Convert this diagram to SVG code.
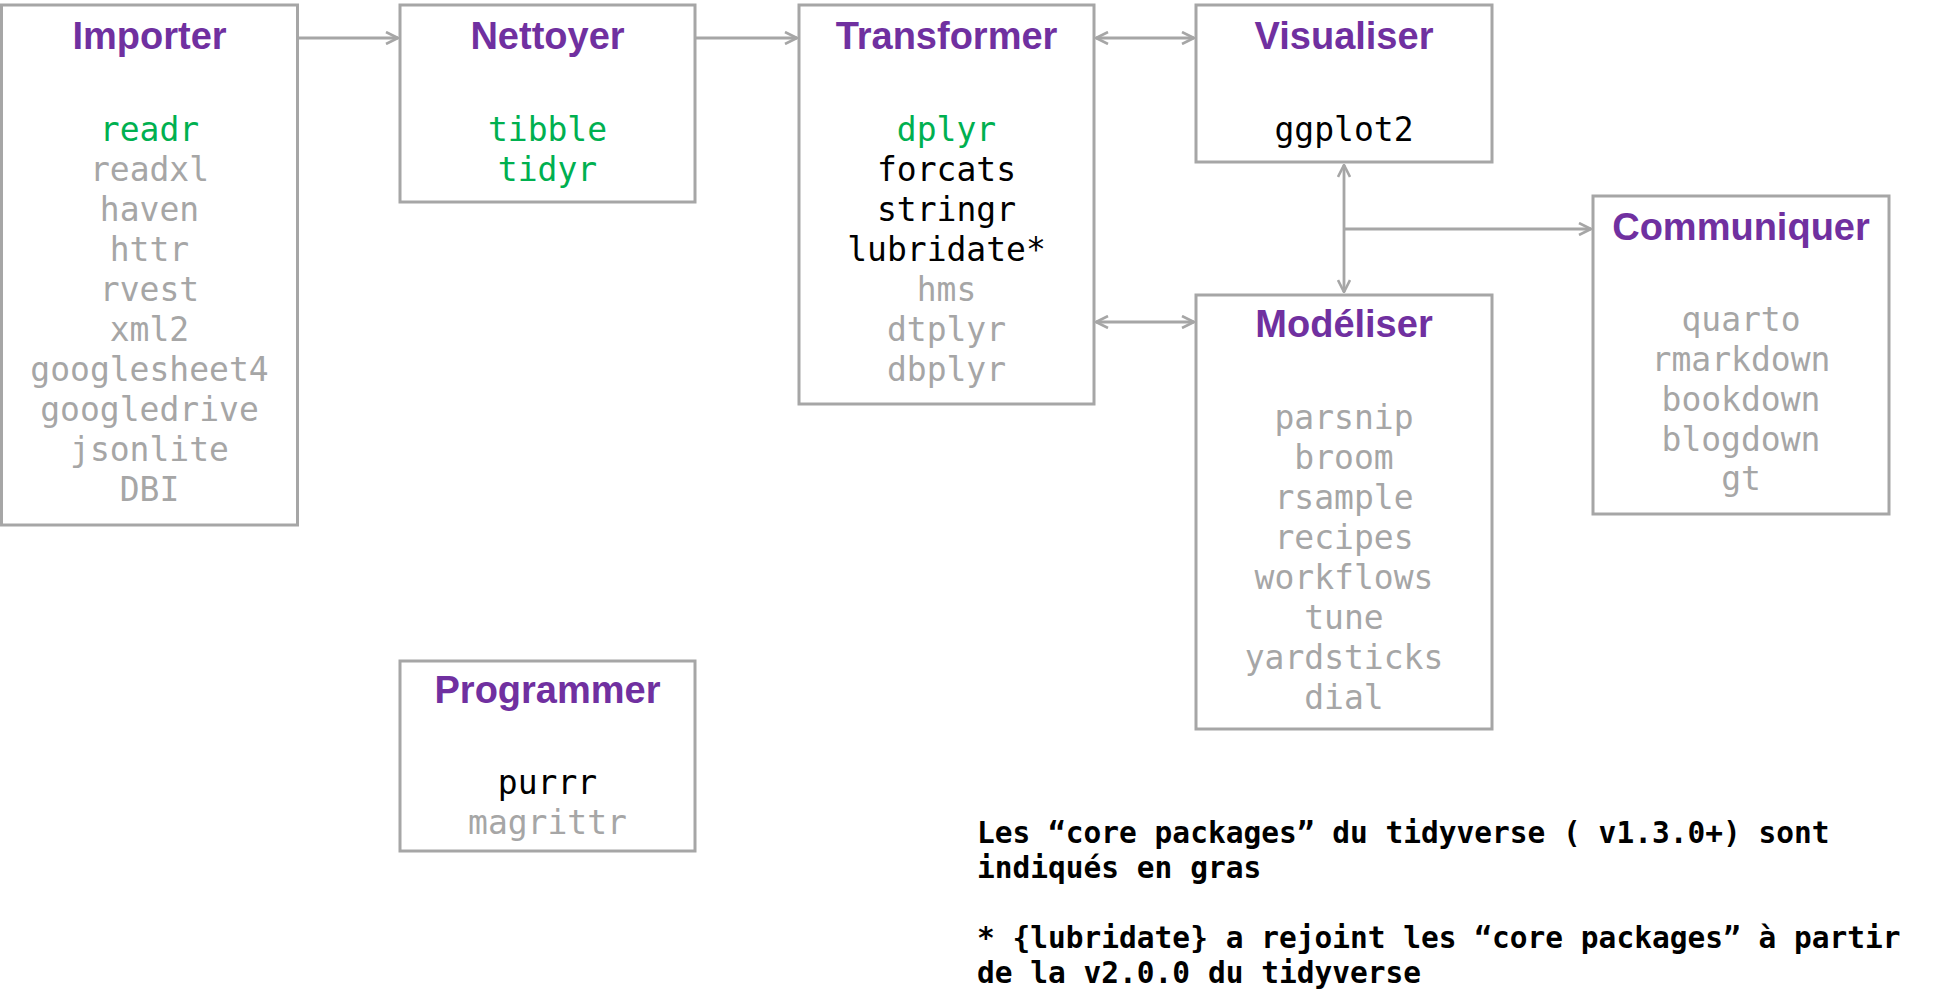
<svg xmlns="http://www.w3.org/2000/svg" width="1933" height="1007" viewBox="0 0 1933 1007">
<style>
.box{fill:#ffffff;stroke:#a6a6a6;stroke-width:3}
.title{font-family:"Liberation Sans",Arial,sans-serif;font-weight:bold;font-size:38px;fill:#7030a0;text-anchor:middle}
.pkg{font-family:"DejaVu Sans Mono","Liberation Mono",monospace;font-size:33px;text-anchor:middle}
.g{fill:#00b050}
.k{fill:#000000}
.s{fill:#a6a6a6}
.note{font-family:"DejaVu Sans Mono","Liberation Mono",monospace;font-weight:bold;font-size:29.5px;fill:#000000}
.conn{stroke:#a6a6a6;stroke-width:2.8;fill:none}
</style>
<defs>
<marker id="arr" viewBox="0 0 14 14" refX="13" refY="7" markerWidth="14" markerHeight="14" markerUnits="userSpaceOnUse" orient="auto-start-reverse">
<path d="M1,1 L13,7 L1,13" fill="none" stroke="#a6a6a6" stroke-width="2.6"/>
</marker>
</defs>
<rect width="1933" height="1007" fill="#ffffff"/>
<g id="connectors">
<line class="conn" x1="298" y1="38" x2="398" y2="38" marker-end="url(#arr)"/>
<line class="conn" x1="696" y1="38" x2="797" y2="38" marker-end="url(#arr)"/>
<line class="conn" x1="1096" y1="38" x2="1194" y2="38" marker-start="url(#arr)" marker-end="url(#arr)"/>
<line class="conn" x1="1096" y1="322" x2="1194" y2="322" marker-start="url(#arr)" marker-end="url(#arr)"/>
<line class="conn" x1="1344" y1="165" x2="1344" y2="292" marker-start="url(#arr)" marker-end="url(#arr)"/>
<line class="conn" x1="1344" y1="229" x2="1591" y2="229" marker-end="url(#arr)"/>
</g>
<g id="importer">
<rect class="box" x="1.5" y="5" width="296" height="520"/>
<text class="title" x="149.5" y="49">Importer</text>
<text class="pkg g" x="149.5" y="140.5">readr</text>
<text class="pkg s" x="149.5" y="180.5">readxl</text>
<text class="pkg s" x="149.5" y="220.5">haven</text>
<text class="pkg s" x="149.5" y="260.5">httr</text>
<text class="pkg s" x="149.5" y="300.5">rvest</text>
<text class="pkg s" x="149.5" y="340.5">xml2</text>
<text class="pkg s" x="149.5" y="380.5">googlesheet4</text>
<text class="pkg s" x="149.5" y="420.5">googledrive</text>
<text class="pkg s" x="149.5" y="460.5">jsonlite</text>
<text class="pkg s" x="149.5" y="500.5">DBI</text>
</g>
<g id="nettoyer">
<rect class="box" x="400" y="5" width="295" height="197"/>
<text class="title" x="547.5" y="49">Nettoyer</text>
<text class="pkg g" x="547.5" y="140.5">tibble</text>
<text class="pkg g" x="547.5" y="180.5">tidyr</text>
</g>
<g id="transformer">
<rect class="box" x="799" y="5" width="295" height="399"/>
<text class="title" x="946.5" y="49">Transformer</text>
<text class="pkg g" x="946.5" y="140.5">dplyr</text>
<text class="pkg k" x="946.5" y="180.5">forcats</text>
<text class="pkg k" x="946.5" y="220.5">stringr</text>
<text class="pkg k" x="946.5" y="260.5">lubridate*</text>
<text class="pkg s" x="946.5" y="300.5">hms</text>
<text class="pkg s" x="946.5" y="340.5">dtplyr</text>
<text class="pkg s" x="946.5" y="380.5">dbplyr</text>
</g>
<g id="visualiser">
<rect class="box" x="1196" y="5" width="296" height="157"/>
<text class="title" x="1344" y="49">Visualiser</text>
<text class="pkg k" x="1344" y="140.5">ggplot2</text>
</g>
<g id="modeliser">
<rect class="box" x="1196" y="295" width="296" height="434"/>
<text class="title" x="1344" y="337">Modéliser</text>
<text class="pkg s" x="1344" y="428.5">parsnip</text>
<text class="pkg s" x="1344" y="468.5">broom</text>
<text class="pkg s" x="1344" y="508.5">rsample</text>
<text class="pkg s" x="1344" y="548.5">recipes</text>
<text class="pkg s" x="1344" y="588.5">workflows</text>
<text class="pkg s" x="1344" y="628.5">tune</text>
<text class="pkg s" x="1344" y="668.5">yardsticks</text>
<text class="pkg s" x="1344" y="708.5">dial</text>
</g>
<g id="communiquer">
<rect class="box" x="1593" y="196" width="296" height="318"/>
<text class="title" x="1741" y="239.5">Communiquer</text>
<text class="pkg s" x="1741" y="331">quarto</text>
<text class="pkg s" x="1741" y="371">rmarkdown</text>
<text class="pkg s" x="1741" y="411">bookdown</text>
<text class="pkg s" x="1741" y="450.5">blogdown</text>
<text class="pkg s" x="1741" y="490">gt</text>
</g>
<g id="programmer">
<rect class="box" x="400" y="661" width="295" height="190"/>
<text class="title" x="547.5" y="703">Programmer</text>
<text class="pkg k" x="547.5" y="794">purrr</text>
<text class="pkg s" x="547.5" y="834">magrittr</text>
</g>
<g id="note">
<text class="note" x="977" y="842.5">Les “core packages” du tidyverse ( v1.3.0+) sont</text>
<text class="note" x="977" y="877.5">indiqués en gras</text>
<text class="note" x="977" y="947.5">* {lubridate} a rejoint les “core packages” à partir</text>
<text class="note" x="977" y="982.5">de la v2.0.0 du tidyverse</text>
</g>
</svg>
